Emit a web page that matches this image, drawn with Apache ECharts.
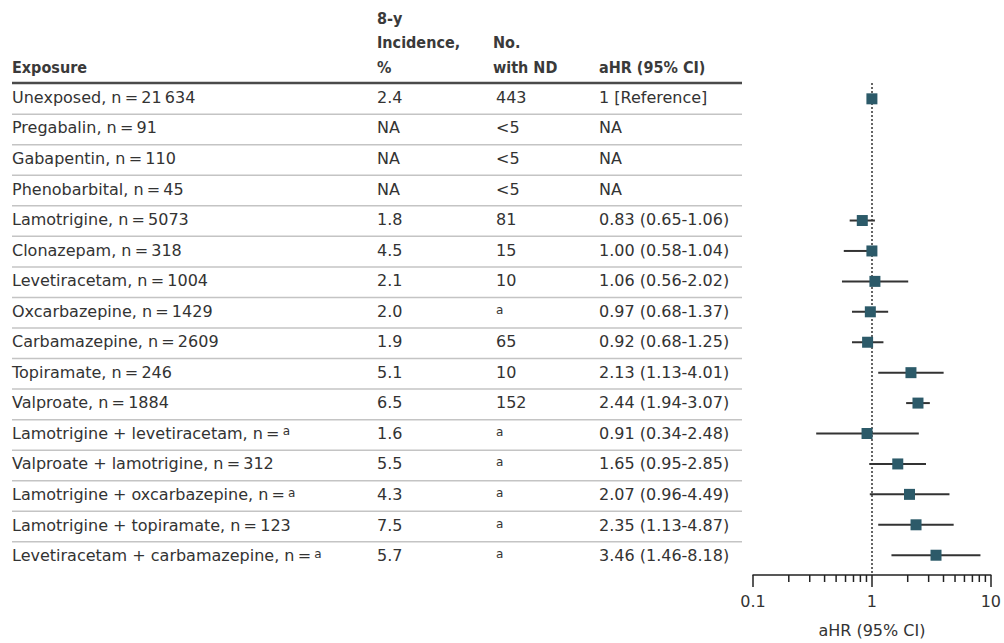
<!DOCTYPE html>
<html><head><meta charset="utf-8">
<script src="https://cdn.jsdelivr.net/npm/echarts@6/dist/echarts.min.js"></script>
<style>html,body{margin:0;padding:0;background:#fff}#c{width:1004px;height:643px}</style>
</head><body><div id="c"></div>
<script>
// ---------- data ----------
const drugs = ['Unexposed','Pregabalin','Gabapentin','Phenobarbital','Lamotrigine','Clonazepam','Levetiracetam','Oxcarbazepine','Carbamazepine','Topiramate','Valproate','Lamotrigine + levetiracetam','Valproate + lamotrigine','Lamotrigine + oxcarbazepine','Lamotrigine + topiramate','Levetiracetam + carbamazepine'];
const nCounts = ['21\u2009634','91','110','45','5073','318','1004','1429','2609','246','1884','a','312','a','123','a'];
const incidence = ['2.4','NA','NA','NA','1.8','4.5','2.1','2.0','1.9','5.1','6.5','1.6','5.5','4.3','7.5','5.7'];
const withND = ['443','<5','<5','<5','81','15','10','a','65','10','152','a','a','a','a','a'];
const ahr = [1, null, null, null, 0.83, 1.00, 1.06, 0.97, 0.92, 2.13, 2.44, 0.91, 1.65, 2.07, 2.35, 3.46];
const ciLow = [null, null, null, null, 0.65, 0.58, 0.56, 0.68, 0.68, 1.13, 1.94, 0.34, 0.95, 0.96, 1.13, 1.46];
const ciHigh = [null, null, null, null, 1.06, 1.04, 2.02, 1.37, 1.25, 4.01, 3.07, 2.48, 2.85, 4.49, 4.87, 8.18];
const headerExposure = ['Exposure'];
const headerIncidence = ['8-y', 'Incidence,', '%'];
const headerND = ['No.', 'with ND'];
const headerAHR = ['aHR (95% CI)'];
const xMajorTicks = [0.1, 1, 10];
const xMinorTicks = [0.2,0.3,0.4,0.5,0.6,0.7,0.8,0.9,2,3,4,5,6,7,8,9];
const xAxisTitle = 'aHR (95% CI)';

// ---------- layout / style ----------
const FONT = 'DejaVu Sans';
const HFONT = 'DejaVu Sans Condensed';
const TXT = '#333333';
const COL = {exposure: 12, incidence: 377, nd: 496, ahr: 599, lineEnd: 742};
const TOP = 83, HEIGHT = 494, YMIN = -0.52, YMAX = 15.65;

function fmt(v){ return v.toFixed(2); }
function ahrText(i){
  if (i === 0) return '1 [Reference]';
  if (ahr[i] == null) return 'NA';
  return fmt(ahr[i]) + ' (' + fmt(ciLow[i]) + '-' + fmt(ciHigh[i]) + ')';
}
function supText(s){ return s === 'a' ? '{sup|a}' : '{t|' + s + '}'; }
const rich = {
  t: {fontFamily: FONT, fontSize: 16, fill: TXT, color: TXT},
  sup: {fontFamily: FONT, fontSize: 12, fill: TXT, color: TXT, verticalAlign: 'top', padding: [0,0,3,0]}
};
function exposureLabel(i){
  return '{t|' + drugs[i] + ', n\u2009=\u2009}' + supText(nCounts[i]);
}

const chart = echarts.init(document.getElementById('c'), null, {renderer: 'svg'});

function tableItem(params, api){
  const i = api.value(1);
  const y = api.coord([0, i])[1] - 1.5;
  const children = [];
  const mk = (x, text) => ({type: 'text', x: x, y: y, style: {text: text, rich: rich, fontFamily: FONT, fontSize: 16, fill: TXT, verticalAlign: 'middle', align: 'left'}});
  children.push(mk(COL.exposure, exposureLabel(i)));
  children.push(mk(COL.incidence, '{t|' + incidence[i] + '}'));
  children.push(mk(COL.nd, supText(withND[i])));
  children.push(mk(COL.ahr, '{t|' + ahrText(i) + '}'));
  if (i === 0) {
    const yh = api.coord([0, i - 0.5])[1] - 0.5;
    children.push({type: 'line', shape: {x1: COL.exposure, y1: yh, x2: COL.lineEnd, y2: yh}, style: {stroke: '#4a4a4a', lineWidth: 2.5}});
  }
  if (i < drugs.length - 1) {
    const ys = api.coord([0, i + 0.5])[1];
    children.push({type: 'line', shape: {x1: COL.exposure, y1: ys, x2: COL.lineEnd, y2: ys}, style: {stroke: '#c4c4c4', lineWidth: 1.5}});
  }
  return {type: 'group', children: children};
}

function ciItem(params, api){
  const p1 = api.coord([api.value(0), api.value(1)]);
  const p2 = api.coord([api.value(2), api.value(1)]);
  return {type: 'line', shape: {x1: p1[0], y1: p1[1], x2: p2[0], y2: p2[1]}, style: {stroke: '#333333', lineWidth: 2}};
}

function minorTickItem(params, api){
  const p = api.coord([api.value(0), YMAX]);
  return {type: 'line', shape: {x1: p[0], y1: p[1], x2: p[0], y2: p[1] + 7}, style: {stroke: '#222222', lineWidth: 1.5}};
}

const headerGraphics = [];
const hdr = (x, y, t) => headerGraphics.push({type: 'text', x: x, y: y, style: {text: t, fontFamily: HFONT, fontSize: 16, fontWeight: 'bold', fill: '#3a3a3a', verticalAlign: 'middle', textVerticalAlign: 'middle'}});
hdr(COL.exposure, 67.5, headerExposure[0]);
headerIncidence.forEach((t, k) => hdr(COL.incidence, [18, 42.5, 67.5][k], t));
headerND.forEach((t, k) => hdr(COL.nd - 3, [42.5, 67.5][k], t));
hdr(COL.ahr, 67.5, headerAHR[0]);

const ciData = [], ptData = [];
ahr.forEach((v, i) => {
  if (v != null) ptData.push([v, i]);
  if (ciLow[i] != null) ciData.push([ciLow[i], i, ciHigh[i]]);
});

chart.setOption({
  animation: false,
  backgroundColor: '#ffffff',
  textStyle: {fontFamily: FONT},
  graphic: headerGraphics,
  grid: [
    {left: 753, width: 240, top: TOP, height: HEIGHT},
    {left: 0, width: 1004, top: TOP, height: HEIGHT}
  ],
  xAxis: [
    {type: 'log', logBase: 10, min: 0.1, max: 10, gridIndex: 0,
     axisLine: {show: true, onZero: false, lineStyle: {color: '#222222', width: 1.5}},
     axisTick: {show: true, length: 12, inside: false, lineStyle: {color: '#222222', width: 1.5}},
     axisLabel: {show: true, margin: 18, color: TXT, fontSize: 16, fontFamily: FONT,
       formatter: v => { const k = xMajorTicks.findIndex(t => Math.abs(t - v) < 1e-9); return k >= 0 ? String(xMajorTicks[k]) : ''; }},
     splitLine: {show: false},
     name: xAxisTitle, nameLocation: 'middle', nameGap: 47,
     nameTextStyle: {color: TXT, fontSize: 16, fontFamily: FONT}},
    {type: 'value', min: 0, max: 1004, gridIndex: 1, show: false}
  ],
  yAxis: [
    {type: 'value', inverse: true, min: YMIN, max: YMAX, gridIndex: 0, show: false},
    {type: 'value', inverse: true, min: YMIN, max: YMAX, gridIndex: 1, show: false}
  ],
  series: [
    {type: 'custom', xAxisIndex: 1, yAxisIndex: 1, renderItem: tableItem,
     data: drugs.map((_, i) => [0, i]), encode: {x: 0, y: 1}, silent: true, z: 1},
    {type: 'custom', xAxisIndex: 0, yAxisIndex: 0, renderItem: ciItem,
     data: ciData, encode: {x: [0, 2], y: 1}, silent: true, z: 3,
     markLine: {silent: true, symbol: 'none', label: {show: false},
       lineStyle: {color: '#333333', type: [2, 2], width: 1.5},
       data: [{xAxis: 1}], z: 2}},
    {type: 'custom', xAxisIndex: 0, yAxisIndex: 0, renderItem: minorTickItem,
     data: xMinorTicks.map(v => [v, 0]), encode: {x: 0, y: 1}, silent: true, clip: false, z: 3},
    {type: 'scatter', xAxisIndex: 0, yAxisIndex: 0, data: ptData, symbol: 'rect', symbolSize: 11,
     itemStyle: {color: '#2c5a69', opacity: 1}, silent: true, z: 5}
  ]
});
</script></body></html>
